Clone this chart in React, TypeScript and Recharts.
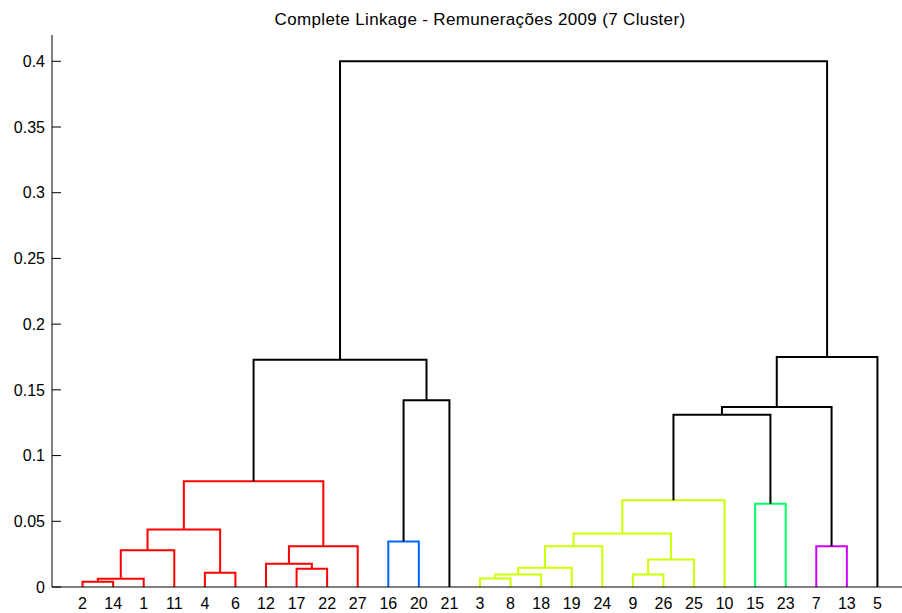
import { ComposedChart, Line, XAxis, YAxis } from "recharts";

// leaf labels in dendrogram order (left to right)
const leafOrder = [2, 14, 1, 11, 4, 6, 12, 17, 22, 27, 16, 20, 21, 3, 8, 18, 19, 24, 9, 26, 25, 10, 15, 23, 7, 13, 5];

// linkage: [node a, node b, height]; ids 1..27 are leaves, merge k gets id 28 + k
const merges: [number, number, number][] = [
  [2, 14, 0.004],
  [28, 1, 0.0062],
  [3, 8, 0.0065],
  [30, 18, 0.0095],
  [9, 26, 0.0095],
  [4, 6, 0.0108],
  [17, 22, 0.0138],
  [31, 19, 0.0146],
  [12, 34, 0.0176],
  [32, 25, 0.0209],
  [29, 11, 0.028],
  [36, 27, 0.031],
  [35, 24, 0.031],
  [7, 13, 0.031],
  [16, 20, 0.0346],
  [40, 37, 0.0407],
  [38, 33, 0.0437],
  [15, 23, 0.0633],
  [43, 10, 0.066],
  [44, 39, 0.0805],
  [46, 45, 0.131],
  [48, 41, 0.137],
  [42, 21, 0.142],
  [47, 50, 0.173],
  [49, 5, 0.175],
  [51, 52, 0.4],
];

// 7 clusters
const clusters = [
  [2, 14, 1, 11, 4, 6, 12, 17, 22, 27],
  [3, 8, 18, 19, 24, 9, 26, 25, 10],
  [15, 23],
  [16, 20],
  [7, 13],
  [21],
  [5],
];

const yTicks = [0, 0.05, 0.1, 0.15, 0.2, 0.25, 0.3, 0.35, 0.4];

const palette = ["#ff0000", "#ccff00", "#00ff66", "#0066ff", "#cc00ff"];

type Node = { x: number; h: number; leaves: number[] };

function buildLinks() {
  const nodes: Record<number, Node> = {};
  leafOrder.forEach((leaf, i) => {
    nodes[leaf] = { x: i + 1, h: 0, leaves: [leaf] };
  });
  const n = leafOrder.length;
  return merges.map(([a, b, h], k) => {
    const na = nodes[a];
    const nb = nodes[b];
    const leaves = [...na.leaves, ...nb.leaves];
    nodes[n + 1 + k] = { x: (na.x + nb.x) / 2, h, leaves };
    const ci = clusters.findIndex((c) => c.includes(leaves[0]));
    const same = leaves.every((l) => clusters[ci].includes(l));
    const color = same && ci < palette.length ? palette[ci] : "#000000";
    const [l, r] = na.x < nb.x ? [na, nb] : [nb, na];
    return {
      color,
      data: [
        { x: l.x, y: l.h },
        { x: l.x, y: h },
        { x: r.x, y: h },
        { x: r.x, y: r.h },
      ],
    };
  });
}

export default function App() {
  const links = buildLinks();
  return (
    <div
      style={{
        position: "absolute",
        left: 0,
        top: 0,
        width: 902,
        height: 613,
        overflow: "hidden",
        background: "#fff",
        fontFamily: "'Liberation Sans', Arial, sans-serif",
      }}
    >
      <div
        style={{
          position: "absolute",
          left: 52,
          width: 856,
          top: 11,
          lineHeight: "17px",
          fontSize: 17,
          letterSpacing: "0.35px",
          textAlign: "center",
          color: "#000",
        }}
      >
        Complete Linkage - Remunerações 2009 (7 Cluster)
      </div>
      <ComposedChart width={910} height={613} margin={{ top: 35, right: 2, bottom: 0, left: 0 }}>
        <XAxis
          type="number"
          dataKey="x"
          domain={[0, 28]}
          ticks={leafOrder.map((_, i) => i + 1)}
          interval={0}
          tickFormatter={(v: number) => String(leafOrder[v - 1] ?? "")}
          height={26}
          tickLine={false}
          tickSize={6}
          tickMargin={5}
          axisLine={{ stroke: "#000" }}
          tick={{ fill: "#000", fontSize: 16 }}
          allowDataOverflow
        />
        <YAxis
          type="number"
          domain={[0, 0.42]}
          ticks={yTicks}
          width={52}
          tickSize={-9}
          tickMargin={16}
          axisLine={{ stroke: "#000" }}
          tickLine={{ stroke: "#000" }}
          tick={{ fill: "#000", fontSize: 16 }}
          tickFormatter={(v: number) => String(v)}
          allowDataOverflow
        />
        {links.map((link, i) => (
          <Line
            key={i}
            data={link.data}
            dataKey="y"
            type="linear"
            stroke={link.color}
            strokeWidth={2}
            dot={false}
            activeDot={false}
            isAnimationActive={false}
          />
        ))}
      </ComposedChart>
    </div>
  );
}
